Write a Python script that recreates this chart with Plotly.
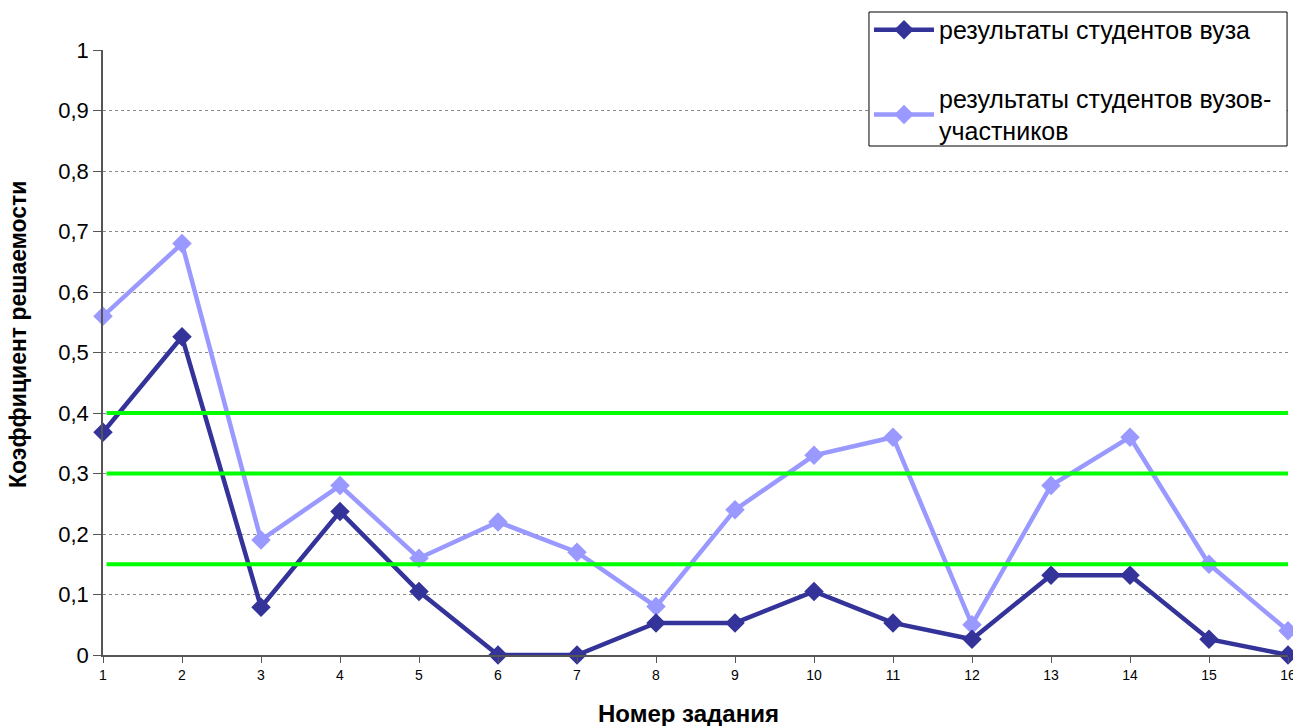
import plotly.graph_objects as go

# Номера заданий и коэффициенты решаемости
tasks = list(range(1, 17))
vuz = [0.368, 0.526, 0.079, 0.237, 0.105, 0.0, 0.0, 0.053,
       0.053, 0.105, 0.053, 0.026, 0.132, 0.132, 0.026, 0.0]
vuzy_uchastniki = [0.56, 0.68, 0.19, 0.28, 0.16, 0.22, 0.17, 0.08,
                   0.24, 0.33, 0.36, 0.05, 0.28, 0.36, 0.15, 0.04]

# Пороговые уровни решаемости
thresholds = [0.4, 0.3, 0.15]

y_ticks = [i / 10 for i in range(11)]
y_ticktext = ["0", "0,1", "0,2", "0,3", "0,4", "0,5", "0,6", "0,7", "0,8", "0,9", "1"]

series_names = ["результаты студентов вуза",
                "результаты студентов вузов-<br>участников"]

fig = go.Figure()

# Светлая линия рисуется первой, тёмная — поверх неё
fig.add_trace(go.Scatter(
    x=tasks, y=vuzy_uchastniki, mode="lines+markers", name=series_names[1],
    legendgroup="b", legendrank=2,
    line=dict(color="#9999FF", width=4.5),
    marker=dict(symbol="diamond", size=15, color="#9999FF"),
    cliponaxis=False,
))
fig.add_trace(go.Scatter(
    x=tasks, y=vuz, mode="lines+markers", name=series_names[0],
    legendgroup="a", legendrank=1,
    line=dict(color="#333399", width=4.5),
    marker=dict(symbol="diamond", size=15, color="#333399"),
    cliponaxis=False,
))

for t in thresholds:
    fig.add_shape(type="line", xref="paper", yref="y", x0=0.003, x1=1.0,
                  y0=t, y1=t, line=dict(color="#00FF00", width=4), layer="above")

# Рамка легенды (белая подложка поверх сетки)
fig.add_shape(type="rect", xref="paper", yref="paper",
              x0=0.6464, x1=0.9992, y0=0.8413, y1=1.0628,
              fillcolor="white", line=dict(color="black", width=1), layer="above")

fig.update_layout(
    width=1293, height=726,
    margin=dict(l=103, r=5, t=50, b=71),
    paper_bgcolor="white", plot_bgcolor="white",
    font=dict(family="Arial, Liberation Sans, sans-serif", color="black"),
    showlegend=True,
    legend=dict(
        x=0.6464, y=1.0711, xanchor="left", yanchor="top",
        bgcolor="rgba(0,0,0,0)", borderwidth=0,
        font=dict(size=25, color="black"),
        traceorder="grouped", tracegroupgap=33,
        itemwidth=60,
    ),
    xaxis=dict(
        range=[1, 16], tickmode="array", tickvals=tasks,
        ticktext=[str(t) for t in tasks],
        tickfont=dict(size=14),
        ticks="outside", ticklen=6, tickcolor="#555",
        ticklabeloverflow="allow", automargin=False,
        showline=True, linecolor="#555", linewidth=1.5,
        showgrid=False, zeroline=False,
    ),
    yaxis=dict(
        range=[0, 1], tickmode="array", tickvals=y_ticks, ticktext=y_ticktext,
        tickfont=dict(size=22), automargin=False,
        ticks="outside", ticklen=8, tickcolor="#555",
        showline=True, linecolor="#555", linewidth=1.5,
        showgrid=True, gridcolor="#8a8a8a", griddash="dot", gridwidth=1,
        zeroline=False,
    ),
    annotations=[
        dict(text="<b>Коэффициент решаемости</b>", xref="paper", yref="paper",
             x=-0.0717, y=0.529, xanchor="center", yanchor="middle",
             textangle=-90, showarrow=False, font=dict(size=23)),
        dict(text="<b>Номер задания</b>", xref="paper", yref="paper",
             x=0.4937, y=-0.096, xanchor="center", yanchor="middle",
             showarrow=False, font=dict(size=24)),
    ],
)

fig.write_html("out.html")
